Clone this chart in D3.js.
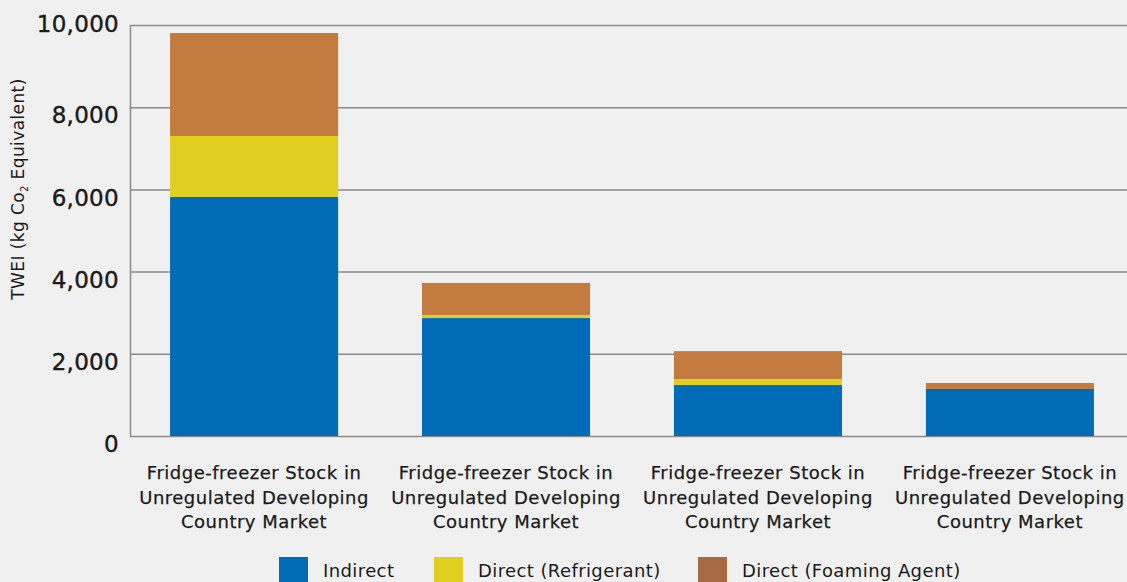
<!DOCTYPE html>
<html>
<head>
<meta charset="utf-8">
<script src="https://cdn.jsdelivr.net/npm/d3@7"></script>
<style>
  body { margin: 0; background: #f0f0f0; }
  svg { display: block; font-family: "DejaVu Sans", sans-serif; }
</style>
</head>
<body>
<svg id="chart"></svg>
<script>
// Chart data
var categories = [
  "Fridge-freezer Stock in\nUnregulated Developing\nCountry Market",
  "Fridge-freezer Stock in\nUnregulated Developing\nCountry Market",
  "Fridge-freezer Stock in\nUnregulated Developing\nCountry Market",
  "Fridge-freezer Stock in\nUnregulated Developing\nCountry Market"
];
var seriesNames = ["Indirect", "Direct (Refrigerant)", "Direct (Foaming Agent)"];
var indirect = [5815, 2870, 1240, 1145];
var refrigerant = [1485, 75, 145, 0];
var foamingAgent = [2505, 780, 680, 145];
var yTicks = [0, 2000, 4000, 6000, 8000, 10000];

var config = {
  width: 1127,
  height: 582,
  left: 130,
  top: 25,
  zeroY: 436,
  barColors: ["#006cb7", "#e0cf20", "#c47b3f"],
  legendColors: ["#006cb7", "#e0cf20", "#a86a44"],// the legend swatch for foaming agent is darker than the bars
  gridColor: "#8a8a8a",
  textColor: "#1a1a1a"
};

var svg = d3.select("#chart")
  .attr("width", config.width)
  .attr("height", config.height);

// Build rows for the stack
var rows = categories.map(function(c, i) {
  var r = { index: i, label: c };
  r[seriesNames[0]] = indirect[i];
  r[seriesNames[1]] = refrigerant[i];
  r[seriesNames[2]] = foamingAgent[i];
  return r;
});
var stacked = d3.stack().keys(seriesNames)(rows);

var x = d3.scaleBand()
  .domain(d3.range(categories.length))
  .range([config.left, 1134])
  .paddingInner(0.333)
  .paddingOuter(0.159);

var y = d3.scaleLinear()
  .domain([0, 10000])
  .range([config.zeroY, config.top]);

// Gridlines and y axis
var yAxis = svg.append("g")
  .attr("transform", "translate(" + config.left + ",0)")
  .call(d3.axisLeft(y)
    .tickValues(yTicks)
    .tickSize(-(config.width - config.left))
    .tickSizeOuter(0)
    .tickPadding(11)
    .tickFormat(d3.format(",")));
yAxis.select(".domain")
  .attr("stroke", config.gridColor)
  .attr("stroke-width", 1.5);
yAxis.selectAll(".tick line")
  .attr("stroke", config.gridColor)
  .attr("stroke-width", 1.5);
yAxis.selectAll(".tick text")
  .attr("font-size", "23px")
  .attr("font-family", "DejaVu Sans, sans-serif")
  .attr("letter-spacing", "0.3px")
  .attr("fill", config.textColor)
  .attr("stroke", config.textColor)
  .attr("stroke-width", 0.4)
  .attr("dy", function(d) { return d === 10000 ? "0.3em" : "0.68em"; });

// Stacked bars
svg.append("g")
  .selectAll("g")
  .data(stacked)
  .join("g")
    .attr("fill", function(d, i) { return config.barColors[i]; })
  .selectAll("rect")
  .data(function(d) { return d; })
  .join("rect")
    .attr("x", function(d) { return x(d.data.index); })
    .attr("width", x.bandwidth())
    .attr("y", function(d) { return y(d[1]); })
    .attr("height", function(d) { return y(d[0]) - y(d[1]); });

// Category labels, three lines each
var catLabels = svg.append("g")
  .selectAll("text")
  .data(rows)
  .join("text")
    .attr("x", function(d) { return x(d.index) + x.bandwidth() / 2; })
    .attr("y", 479)
    .attr("text-anchor", "middle")
    .attr("font-size", "18px")
    .attr("letter-spacing", "0.5px")
    .attr("fill", config.textColor)
    .attr("stroke", config.textColor)
    .attr("stroke-width", 0.25);
catLabels.selectAll("tspan")
  .data(function(d) { return d.label.split("\n"); })
  .join("tspan")
    .attr("x", function() { return d3.select(this.parentNode).attr("x"); })
    .attr("dy", function(d, i) { return i === 0 ? 0 : 24.5; })
    .text(function(d) { return d; });

// Y axis title with subscript
var yTitle = svg.append("text")
  .attr("transform", "translate(24,189) rotate(-90)")
  .attr("text-anchor", "middle")
  .attr("font-size", "17px")
  .attr("letter-spacing", "0.4px")
  .attr("fill", config.textColor);
yTitle.append("tspan").text("TWEI (kg Co");
yTitle.append("tspan").attr("font-size", "10px").attr("dy", 4).text("2");
yTitle.append("tspan").attr("dy", -4).text(" Equivalent)");

// Legend
var legendX = [279, 434, 698];
var legend = svg.append("g")
  .selectAll("g")
  .data(seriesNames)
  .join("g")
    .attr("transform", function(d, i) { return "translate(" + legendX[i] + ",557)"; });
legend.append("rect")
  .attr("width", 29)
  .attr("height", 29)
  .attr("fill", function(d, i) { return config.legendColors[i]; });
legend.append("text")
  .attr("x", 44)
  .attr("y", 14)
  .attr("dy", "0.35em")
  .attr("font-size", "18px")
  .attr("letter-spacing", "0.4px")
  .attr("fill", config.textColor)
  .text(function(d) { return d; });
</script>
</body>
</html>
